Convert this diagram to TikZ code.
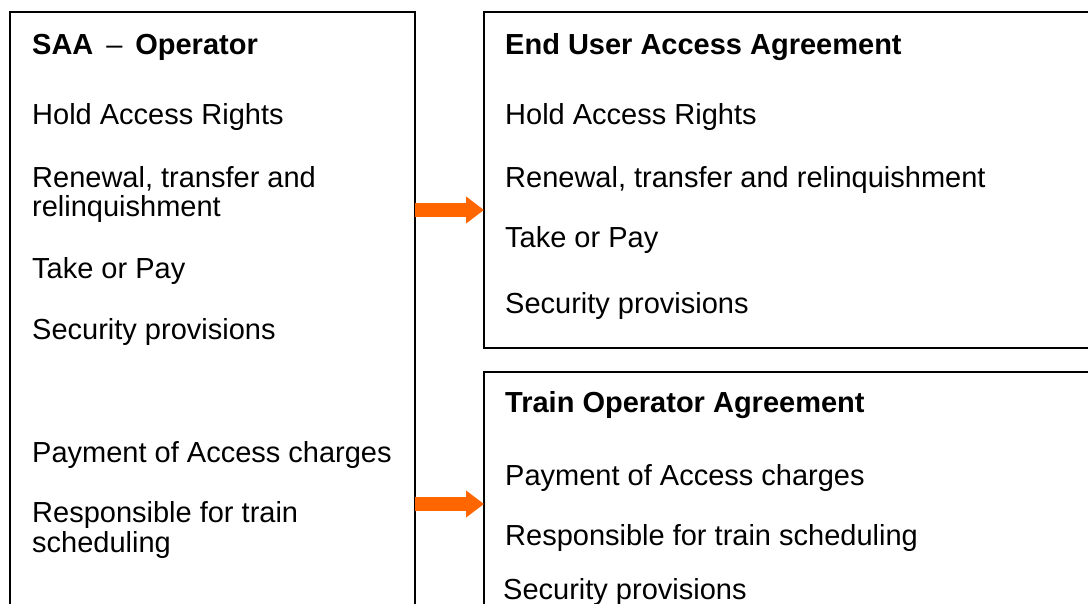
\documentclass[tikz,border=0pt]{standalone}
\usepackage{fontspec}
\setmainfont{Liberation Sans}
\usetikzlibrary{arrows.meta}
\definecolor{arroworange}{HTML}{FF6600}
\begin{document}
\begin{tikzpicture}[x=1pt,y=-1pt,
  box/.style={draw=black, line width=1.5pt, inner sep=0pt, outer sep=0pt, anchor=north west},
  txt/.style={anchor=base west, inner sep=0pt, font=\fontsize{29}{29}\selectfont},
  head/.style={anchor=base west, inner sep=0pt, font=\fontsize{29}{29}\selectfont\bfseries},
  blockarrow/.style={draw=arroworange, line width=14pt, -{Triangle[length=18pt,width=26pt]}}]
\clip (0,0) rectangle (1088,603);
\fill[white] (0,0) rectangle (1088,603);
% boxes
\node[box, minimum width=405pt, minimum height=640pt] (saa) at (10,12) {};
\node[box, minimum width=660pt, minimum height=336pt] (euaa) at (484,12) {};
\node[box, minimum width=660pt, minimum height=280pt] (toa) at (484,372) {};
% left texts
\node[head] (l0) at (32,54) {SAA {\mdseries\,–\,} Operator};
\node[txt] (l1) at (32,124) {Hold Access Rights};
\node[txt] (l2) at (32,187) {Renewal, transfer and};
\node[txt] (l2b) at (32,216) {relinquishment};
\node[txt] (l3) at (32,278) {Take or Pay};
\node[txt] (l4) at (32,339) {Security provisions};
\node[txt] (l5) at (32,462) {Payment of Access charges};
\node[txt] (l6) at (32,522) {Responsible for train};
\node[txt] (l6b) at (32,552) {scheduling};
% right top texts
\node[head] (r0) at (505,54) {End User Access Agreement};
\node[txt] (r1) at (505,124) {Hold Access Rights};
\node[txt] (r2) at (505,187) {Renewal, transfer and relinquishment};
\node[txt] (r3) at (505,247) {Take or Pay};
\node[txt] (r4) at (505,313) {Security provisions};
% right bottom texts
\node[head] (b0) at (505,412) {Train Operator Agreement};
\node[txt] (b1) at (505,485) {Payment of Access charges};
\node[txt] (b2) at (505,545) {Responsible for train scheduling};
\node[txt] (b3) at (503,599) {Security provisions};
% arrows
\draw[blockarrow] (saa.east |- 0,210) -- (euaa.west |- 0,210);
\draw[blockarrow] (saa.east |- 0,504) -- (toa.west |- 0,504);
\end{tikzpicture}
\end{document}
